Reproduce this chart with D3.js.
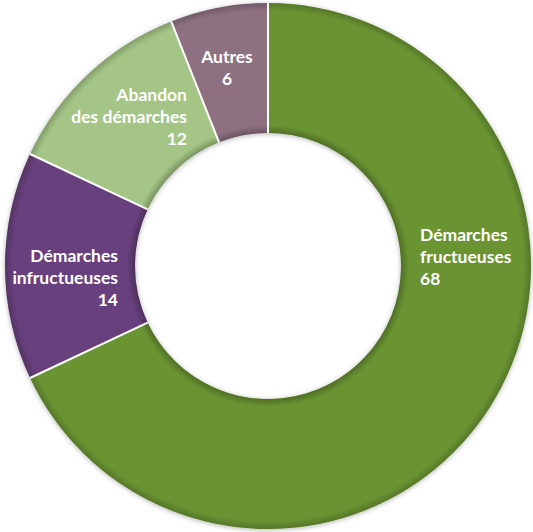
<!DOCTYPE html>
<html lang="fr">
<head>
<meta charset="UTF-8">
<title>Démarches</title>
<script src="https://d3js.org/d3.v7.min.js"></script>
<style>
  body { margin: 0; background: #fff; }
  text { font-family: Lato, "Open Sans", sans-serif; font-weight: 700; fill: #fff; }
</style>
</head>
<body>
<svg id="chart" width="533" height="532"></svg>
<script>
// Data
const categories = ["Démarches fructueuses", "Démarches infructueuses", "Abandon des démarches", "Autres"];
const values = [68, 14, 12, 6];
const colors = ["#6a9431", "#67407d", "#a4c585", "#8e7181"];
// label lines per slice (value last)
const labelLines = [
  ["Démarches", "fructueuses", "68"],
  ["Démarches", "infructueuses", "14"],
  ["Abandon", "des démarches", "12"],
  ["Autres", "6"]
];

const width = 533, height = 532;
const cx = 268, cy = 266;
const outerR = 263, innerR = 133;

const svg = d3.select("#chart");
const defs = svg.append("defs");

const shadow = defs.append("filter").attr("id", "shadow")
  .attr("x", "-10%").attr("y", "-10%").attr("width", "120%").attr("height", "120%");
shadow.append("feDropShadow").attr("dx", 0).attr("dy", 1)
  .attr("stdDeviation", 2.5).attr("flood-color", "#000").attr("flood-opacity", 0.3);

// soft darkening near the ring edges
const grad = defs.append("radialGradient").attr("id", "edge")
  .attr("gradientUnits", "userSpaceOnUse")
  .attr("cx", 0).attr("cy", 0).attr("r", outerR);
grad.append("stop").attr("offset", innerR / outerR).attr("stop-color", "#000").attr("stop-opacity", 0.25);
grad.append("stop").attr("offset", (innerR + 8) / outerR).attr("stop-color", "#000").attr("stop-opacity", 0);
grad.append("stop").attr("offset", (outerR - 8) / outerR).attr("stop-color", "#000").attr("stop-opacity", 0);
grad.append("stop").attr("offset", 1).attr("stop-color", "#000").attr("stop-opacity", 0.2);

const g = svg.append("g").attr("transform", `translate(${cx},${cy})`);

const pie = d3.pie().sort(null).value(d => d)(values);
const arc = d3.arc().innerRadius(innerR).outerRadius(outerR);

g.append("g").attr("filter", "url(#shadow)")
  .selectAll("path")
  .data(pie)
  .join("path")
  .attr("d", arc)
  .attr("fill", (d, i) => colors[i]);

g.append("circle").attr("r", (innerR + outerR) / 2)
  .attr("fill", "none")
  .attr("stroke", "url(#edge)")
  .attr("stroke-width", outerR - innerR);

// white separators
g.selectAll("line.sep")
  .data(pie)
  .join("line")
  .attr("class", "sep")
  .attr("x1", d => innerR * Math.sin(d.startAngle))
  .attr("y1", d => -innerR * Math.cos(d.startAngle))
  .attr("x2", d => outerR * Math.sin(d.startAngle))
  .attr("y2", d => -outerR * Math.cos(d.startAngle))
  .attr("stroke", "#fff")
  .attr("stroke-width", 2);

// label anchors (relative to centre), alignment per slice
const labelPos = [
  { x: 152, y: -25, anchor: "start" },
  { x: -150, y: -4, anchor: "end" },
  { x: -81, y: -165, anchor: "end" },
  { x: -41, y: -203, anchor: "middle" }
];
const lineH = 22;

g.selectAll("text.lbl")
  .data(labelLines)
  .join("text")
  .attr("class", "lbl")
  .attr("font-size", 17.5)
  .attr("text-anchor", (d, i) => labelPos[i].anchor)
  .attr("transform", (d, i) => `translate(${labelPos[i].x},${labelPos[i].y})`)
  .selectAll("tspan")
  .data(d => d)
  .join("tspan")
  .attr("x", 0)
  .attr("y", (d, j) => j * lineH)
  .text(d => d);
</script>
</body>
</html>
